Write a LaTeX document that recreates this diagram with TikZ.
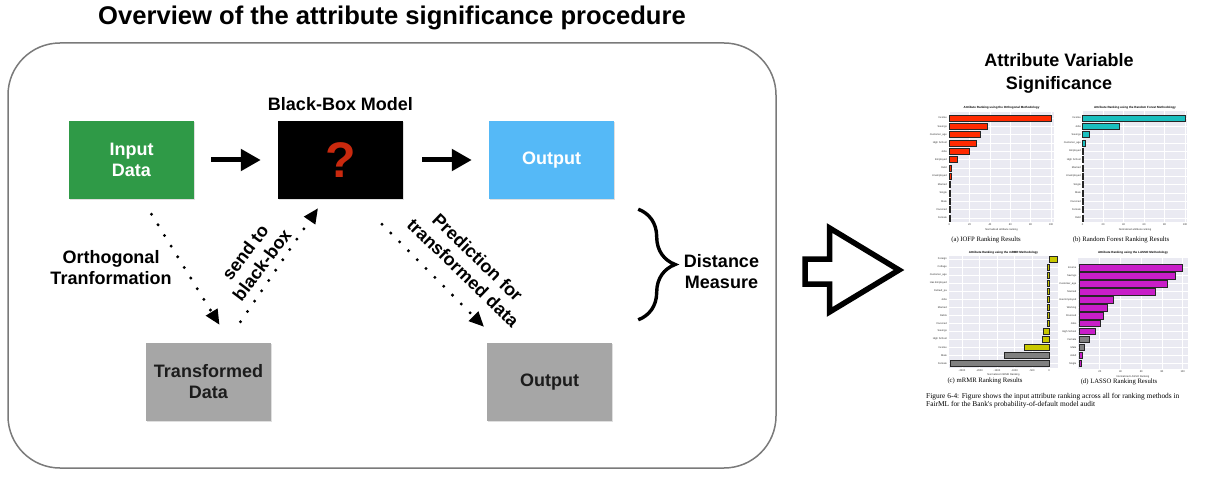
\documentclass[tikz,border=0pt]{standalone}
\usepackage{fontspec}
\newfontfamily\lsans{Liberation Sans}
\newfontfamily\lserif{Liberation Serif}
\usetikzlibrary{arrows.meta,calc,decorations.pathreplacing,shadows}
\definecolor{boxgreen}{HTML}{2F9A47}
\definecolor{boxblue}{HTML}{55B9F7}
\definecolor{boxgray}{HTML}{A6A6A6}
\definecolor{qred}{HTML}{C9290E}
\definecolor{framegray}{HTML}{7A7A7A}
\definecolor{darktext}{HTML}{1C1C1C}
\definecolor{plotbg}{HTML}{EAEAF2}
\definecolor{barred}{HTML}{FF2A00}
\definecolor{barcyan}{HTML}{1ABFBF}
\definecolor{baryel}{HTML}{C9C800}
\definecolor{bargray}{HTML}{808080}
\definecolor{barmag}{HTML}{C81EC8}
\definecolor{ticktext}{HTML}{333333}
\begin{document}
\begin{tikzpicture}[x=1pt,y=-1pt,
  lbl/.style={font=\lsans\bfseries\fontsize{18}{21}\selectfont, align=center, inner sep=0pt},
  box/.style={lbl, minimum width=125pt, minimum height=78pt, inner sep=0pt, drop shadow={opacity=0.25, shadow xshift=1pt, shadow yshift=-1pt}},
  bigarrow/.style={line width=5pt, -{Triangle[length=20pt,width=21pt]}},
  dotarrow/.style={line width=3.3pt, line cap=round, dash pattern=on 0pt off 12.5pt, -{Triangle[length=15pt,width=13pt]}},
  gridl/.style={draw=white, line width=0.6pt},
  barst/.style={draw=black!85, line width=0.6pt},
  ytl/.style={font=\lsans\fontsize{2.6}{3}\selectfont, text=ticktext, inner sep=0pt, anchor=east},
  xtl/.style={font=\lsans\fontsize{2.6}{3}\selectfont, text=ticktext, inner sep=0pt, anchor=north},
  ptitle/.style={font=\lsans\bfseries\fontsize{3}{3.5}\selectfont, inner sep=0pt},
  subcap/.style={font=\lserif\fontsize{6.7}{7.5}\selectfont, inner sep=0pt},
]
\useasboundingbox (0,0) rectangle (1213,484);

% ---- title and frame
\node[font=\lsans\bfseries\fontsize{25.6}{30}\selectfont, inner sep=0pt] (title) at (392,18) {Overview of the attribute significance procedure};
\node[draw=framegray, line width=1.5pt, rounded corners=52pt, minimum width=768pt, minimum height=425pt, inner sep=0pt] (frame) at (392,255.5) {};

% ---- boxes
\node[box, fill=boxgreen, text=white] (input) at (131.5,160) {Input\\Data};
\node[box, fill=black, text=qred, font=\lsans\bfseries\fontsize{50}{50}\selectfont] (bbox) at (340.5,160) {?};
\node[lbl] (bblabel) at (340.5,104) {Black-Box Model};
\node[box, fill=boxblue, text=white] (out1) at (551.5,160) {Output};
\node[box, fill=boxgray, text=darktext] (trans) at (208.5,382) {Transformed\\Data};
\node[box, fill=boxgray, text=darktext] (out2) at (549.5,382) {Output};

% ---- solid arrows
\draw[bigarrow, shorten <=17pt, shorten >=17pt] (input) -- (bbox);
\draw[bigarrow, shorten <=19pt, shorten >=17pt] (bbox) -- (out1);

% ---- dotted arrows
\draw[dotarrow] ($(input.south)+(20,15)$) -- ($(trans.north)+(11,-18)$);
\draw[dotarrow] ($(trans.north)+(32,-21)$) -- ($(bbox.south)+(-22.5,9)$);
\draw[dotarrow] ($(bbox.south)+(41.5,25)$) -- ($(out2.north)+(-65.5,-16)$);

\node[lbl] (orth) at (111,268) {Orthogonal\\Tranformation};
\node[lbl, rotate=53] (send) at (253.5,258.5) {send to\\black-box};
\node[lbl, rotate=-44] (pred) at (470.5,265) {Prediction for\\transformed data};

% ---- brace and distance
\draw[line width=3.4pt, decorate, decoration={brace, amplitude=37pt}] ($(out1.south east)+(24,10)$) -- ($(out2.north east)+(26,-23)$);
\node[lbl] (dist) at (721.5,271.5) {Distance\\Measure};

% ---- hollow arrow
\draw[line width=5.5pt, miter limit=10] (805,259) -- (829.5,259) -- (829.5,228) -- (899,270) -- (829.5,312) -- (829.5,284) -- (805,284) -- cycle;

% ---- right side heading
\node[lbl, font=\lsans\bfseries\fontsize{18}{23}\selectfont] (avs) at (1059,73) {Attribute Variable\\Significance};

% ---- chart (a)
\fill[plotbg] (949,112) rectangle (1054,222);
\foreach \v in {0,20,40,60,80,100}{
  \draw[gridl] ({949.3+1.017*\v},112) -- ({949.3+1.017*\v},222);
  \node[xtl] (ax\v) at ({949.3+1.017*\v},223.5) {\v};
}
\foreach \i in {0,...,12} \draw[gridl] (949,{118+8.33*\i}) -- (1054,{118+8.33*\i});
\foreach \val [count=\i from 0] in {100,37.5,30.6,27,19.5,7.8,2,2,1.3,1.3,0.6,0.6,0.6}
  \filldraw[barst, fill=barred] (949.3,{115+8.33*\i}) rectangle ({949.3+1.017*\val},{121+8.33*\i});
\foreach \lab [count=\i from 0] in {Income,Savings,Customer\_age,High School,Jobs,Employed,Debt,Unemployed,Married,Single,Male,Divorced,Female}
  \node[ytl] (ay\i) at (947,{118+8.33*\i}) {\lab};
\node[ptitle] (atit) at (1001.5,108) {Attribute Ranking using the Orthogonal Methodology};
\node[xtl] (axl) at (1001.5,228.5) {Normalized attribute ranking};
\node[subcap] (capa) at (986,240) {(a) IOFP Ranking Results};

% ---- chart (b)
\fill[plotbg] (1083,111) rectangle (1187,222);
\foreach \v in {0,20,40,60,80,100}{
  \draw[gridl] ({1082.7+1.023*\v},111) -- ({1082.7+1.023*\v},222);
  \node[xtl] (bx\v) at ({1082.7+1.023*\v},223.5) {\v};
}
\foreach \i in {0,...,12} \draw[gridl] (1083,{118+8.33*\i}) -- (1187,{118+8.33*\i});
\foreach \val [count=\i from 0] in {100,35.5,6,2.6,1,1,0.3,0.3,0.3,0.3,0.3,0.3,0.3}
  \filldraw[barst, fill=barcyan] (1082.7,{115+8.33*\i}) rectangle ({1082.7+1.023*\val},{121+8.33*\i});
\foreach \lab [count=\i from 0] in {Income,Jobs,Savings,Customer\_age,Employed,High School,Married,Unemployed,Single,Male,Divorced,Female,Debt}
  \node[ytl] (by\i) at (1081,{118+8.33*\i}) {\lab};
\node[ptitle] (btit) at (1135,107.5) {Attribute Ranking using the Random Forest Methodology};
\node[xtl] (bxl) at (1135,228.5) {Normalized attribute ranking};
\node[subcap] (capb) at (1121,240) {(b) Random Forest Ranking Results};

% ---- chart (c)
\fill[plotbg] (949,256) rectangle (1058,368);
\foreach \x/\t in {962/-2500,979.5/-2000,997/-1500,1014.5/-1000,1032/-500,1049/0}{
  \draw[gridl] (\x,256) -- (\x,368);
  \node[xtl] (cx\x) at (\x,369.5) {\t};
}
\foreach \i in {0,...,13} \draw[gridl] (949,{259.3+8*\i}) -- (1058,{259.3+8*\i});
\foreach \val/\col [count=\i from 0] in {8.3/baryel,-1.5/baryel,-1.5/baryel,-1.5/baryel,-1.5/baryel,-1.5/baryel,-1.5/baryel,-1.5/baryel,-1.5/baryel,-5.7/baryel,-7/baryel,-25/baryel,-45/bargray,-99/bargray}
  \filldraw[barst, fill=\col] (1049,{256.3+8*\i}) rectangle ({1049+\val},{262.3+8*\i});
\foreach \lab [count=\i from 0] in {Foreign,Cottage,Customer\_age,Has Employed,Default\_pa,Jobs,Married,Debts,Divorced,Savings,High School,Income,Male,Female}
  \node[ytl] (cy\i) at (947,{259.3+8*\i}) {\lab};
\node[ptitle] (ctit) at (1003.5,252.5) {Attribute Ranking using the mRMR Methodology};
\node[xtl] (cxl) at (1003.5,373.5) {Normalized mRMR Ranking};
\node[subcap] (capc) at (985,381) {(c) mRMR Ranking Results};

% ---- chart (d)
\fill[plotbg] (1078,258) rectangle (1188,369);
\foreach \v in {20,40,60,80,100}{
  \draw[gridl] ({1079+1.037*\v},258) -- ({1079+1.037*\v},369);
  \node[xtl] (dx\v) at ({1079+1.037*\v},370.5) {\v};
}
\foreach \i in {0,...,12} \draw[gridl] (1078,{267.7+7.97*\i}) -- (1188,{267.7+7.97*\i});
\foreach \val/\col [count=\i from 0] in {100/barmag,92.6/barmag,85.5/barmag,73.6/barmag,33/barmag,27.7/barmag,23.8/barmag,20.9/barmag,15.4/barmag,9.6/bargray,5.1/bargray,3.5/barmag,1.9/barmag}
  \filldraw[barst, fill=\col] (1079,{264.4+7.97*\i}) rectangle ({1079+1.037*\val},{271+7.97*\i});
\foreach \lab [count=\i from 0] in {Income,Savings,Customer\_age,Married,Has Employed,Working,Divorced,Jobs,High School,Female,Male,Adult,Single}
  \node[ytl] (dy\i) at (1076.5,{267.7+7.97*\i}) {\lab};
\node[ptitle] (dtit) at (1133,253) {Attribute Ranking using the LASSO Methodology};
\node[xtl] (dxl) at (1133,375) {Normalized LASSO Ranking};
\node[subcap] (capd) at (1119,381.5) {(d) LASSO Ranking Results};

% ---- figure caption
\node[subcap, anchor=north west, align=left, font=\lserif\fontsize{7.4}{7.6}\selectfont] (figcap) at (926,393.5) {Figure 6-4: Figure shows the input attribute ranking across all for ranking methods in\\FairML for the Bank's probability-of-default model audit};
\end{tikzpicture}
\end{document}
